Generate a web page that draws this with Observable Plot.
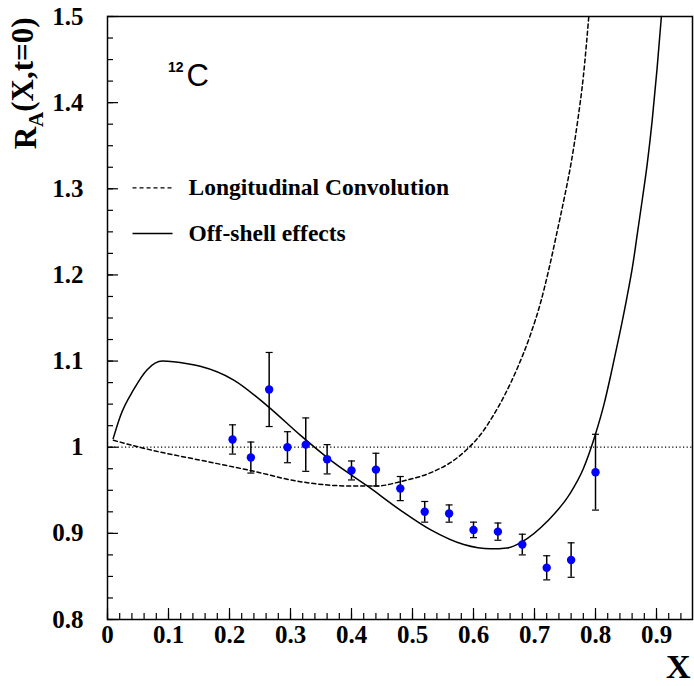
<!DOCTYPE html>
<html>
<head>
<meta charset="utf-8">
<script src="https://cdn.jsdelivr.net/npm/d3@7"></script>
<script src="https://cdn.jsdelivr.net/npm/@observablehq/plot@0.6"></script>
<style>
  html, body { margin: 0; padding: 0; background: white; }
</style>
</head>
<body>
<div id="chart"></div>
<script>
// ---- data ----
const dataX   = [0.205, 0.235, 0.265, 0.295, 0.325, 0.36, 0.40, 0.44, 0.48, 0.52, 0.56, 0.60, 0.64, 0.68, 0.72, 0.76, 0.80];
const dataY   = [1.009, 0.988, 1.067, 1.000, 1.003, 0.986, 0.973, 0.974, 0.952, 0.925, 0.923, 0.904, 0.902, 0.887, 0.860, 0.869, 0.971];
const dataErr = [0.017, 0.018, 0.043, 0.018, 0.031, 0.017, 0.011, 0.019, 0.014, 0.012, 0.010, 0.009, 0.010, 0.012, 0.014, 0.020, 0.044];

const offShellX = [0.0093, 0.021, 0.043, 0.065, 0.090, 0.131, 0.152, 0.207, 0.262, 0.316, 0.371, 0.426, 0.480, 0.530, 0.584, 0.628, 0.655, 0.679, 0.721, 0.759, 0.780, 0.799, 0.814, 0.827, 0.840, 0.851, 0.861, 0.869, 0.877, 0.885, 0.893, 0.901, 0.908];
const offShellY = [1.010, 1.036, 1.067, 1.090, 1.100, 1.097, 1.094, 1.078, 1.048, 1.014, 0.982, 0.955, 0.927, 0.904, 0.887, 0.882, 0.883, 0.890, 0.914, 0.947, 0.975, 1.013, 1.050, 1.090, 1.133, 1.172, 1.211, 1.250, 1.289, 1.330, 1.380, 1.440, 1.500];

const longConvX = [0.0098, 0.076, 0.152, 0.234, 0.316, 0.398, 0.442, 0.480, 0.535, 0.562, 0.590, 0.612, 0.630, 0.650, 0.672, 0.693, 0.710, 0.724, 0.737, 0.749, 0.760, 0.771, 0.780, 0.789];
const longConvY = [1.008, 0.996, 0.985, 0.973, 0.960, 0.955, 0.955, 0.960, 0.972, 0.982, 0.998, 1.015, 1.034, 1.059, 1.092, 1.130, 1.168, 1.208, 1.250, 1.290, 1.330, 1.380, 1.430, 1.500];

const xTicks = [0, 0.1, 0.2, 0.3, 0.4, 0.5, 0.6, 0.7, 0.8, 0.9];
const xTickLabels = ["0", "0.1", "0.2", "0.3", "0.4", "0.5", "0.6", "0.7", "0.8", "0.9"];
const yTicks = [0.8, 0.9, 1.0, 1.1, 1.2, 1.3, 1.4, 1.5];
const yTickLabels = ["0.8", "0.9", "1", "1.1", "1.2", "1.3", "1.4", "1.5"];

const legendLabels = ["Longitudinal Convolution", "Off-shell effects"];
const nucleusMass = "12";
const nucleusSymbol = "C";
const yTitle = "R_A(X,t=0)";
const xTitle = "X";

// ---- derived tables ----
const points = dataX.map((x, i) => ({x, y: dataY[i], e: dataErr[i]}));
const offShell = offShellX.map((x, i) => ({x, y: offShellY[i]}));
const longConv = longConvX.map((x, i) => ({x, y: longConvY[i]}));
const xLabelMap = new Map(xTicks.map((t, i) => [t, xTickLabels[i]]));
const yLabelMap = new Map(yTicks.map((t, i) => [t, yTickLabels[i]]));
const xMinor = d3.range(0, 48).map(i => +(i * 0.02).toFixed(2));
const yMinor = d3.range(0, 29).map(i => +(0.8 + i * 0.025).toFixed(3));

const capSymbol = {
  draw(context, size) {
    const w = Math.sqrt(size / Math.PI);
    context.moveTo(-w, 0);
    context.lineTo(w, 0);
  }
};

const serif = "Liberation Serif";
const frameH = 686 - 16 - 67;
const frameW = 694 - 107 - 2;

const legend = [
  {x1: 0.041, x2: 0.1066, xt: 0.1328, y: 1.301, label: legendLabels[0]},
  {x1: 0.041, x2: 0.1066, xt: 0.1328, y: 1.248, label: legendLabels[1]}
];

const chart = Plot.plot({
  width: 694,
  height: 686,
  marginLeft: 107,
  marginRight: 2,
  marginTop: 16,
  marginBottom: 67,
  x: {domain: [0, 0.959]},
  y: {domain: [0.8, 1.5]},
  style: {fontFamily: serif, fontWeight: "bold", fontSize: "25px", background: "white", color: "black"},
  marks: [
    // reference line at 1
    Plot.ruleY([1], {stroke: "black", strokeWidth: 1.2, strokeDasharray: "1.2,2.4"}),
    // minor and major ticks (inside the frame)
    Plot.tickX(xMinor, {x: d => d, insetTop: frameH - 6, stroke: "black", strokeWidth: 1.2}),
    Plot.tickX(xTicks, {x: d => d, insetTop: frameH - 11, stroke: "black", strokeWidth: 1.2}),
    Plot.tickY(yMinor, {y: d => d, insetRight: frameW - 6, stroke: "black", strokeWidth: 1.2}),
    Plot.tickY(yTicks, {y: d => d, insetRight: frameW - 11, stroke: "black", strokeWidth: 1.2}),
    // axes labels
    Plot.axisX(xTicks, {tickSize: 0, tickPadding: 6, tickFormat: d => xLabelMap.get(d), label: null, fontSize: 25, fontWeight: "bold", fontFamily: serif}),
    Plot.axisY(yTicks, {tickSize: 0, tickPadding: 24, tickFormat: d => yLabelMap.get(d), label: null, fontSize: 25, fontWeight: "bold", fontFamily: serif}),
    // curves
    Plot.line(longConv, {x: "x", y: "y", curve: "monotone-x", stroke: "black", strokeWidth: 1.5, strokeDasharray: "4,3"}),
    Plot.line(offShell, {x: "x", y: "y", curve: "monotone-x", stroke: "black", strokeWidth: 1.5}),
    // error bars
    Plot.ruleX(points, {x: "x", y1: d => d.y - d.e, y2: d => d.y + d.e, stroke: "black", strokeWidth: 1.5}),
    Plot.dot(points, {x: "x", y: d => d.y + d.e, symbol: capSymbol, r: 3.5, stroke: "black", fill: "none", strokeWidth: 1.2}),
    Plot.dot(points, {x: "x", y: d => d.y - d.e, symbol: capSymbol, r: 3.5, stroke: "black", fill: "none", strokeWidth: 1.2}),
    // data points
    Plot.dot(points, {x: "x", y: "y", r: 4.2, fill: "#0000ff", stroke: "none"}),
    // legend
    Plot.link([legend[0]], {x1: "x1", x2: "x2", y1: "y", y2: "y", stroke: "black", strokeWidth: 1.3, strokeDasharray: "4,3"}),
    Plot.link([legend[1]], {x1: "x1", x2: "x2", y1: "y", y2: "y", stroke: "black", strokeWidth: 1.5}),
    Plot.text(legend, {x: "xt", y: "y", text: "label", textAnchor: "start", fontSize: 23.5, fontWeight: "bold", fontFamily: serif}),
    // nucleus label
    Plot.text([0], {x: 0.112, y: 1.441, text: () => nucleusMass, fontSize: 14, fontWeight: "bold", fontFamily: "Liberation Sans", textAnchor: "middle"}),
    Plot.text([0], {x: 0.148, y: 1.431, text: () => nucleusSymbol, fontSize: 31, fontWeight: "normal", fontFamily: "Liberation Sans", textAnchor: "middle"}),
    // axis titles
    Plot.text([0], {frameAnchor: "top-left", text: () => yTitle, rotate: -90, textAnchor: "end", lineAnchor: "middle", dx: -81, dy: 1, fontSize: 31, fontWeight: "bold", fontFamily: serif}),
    Plot.text([0], {frameAnchor: "bottom-right", text: () => xTitle, textAnchor: "end", lineAnchor: "middle", dx: -2, dy: 48, fontSize: 34, fontWeight: "bold", fontFamily: serif}),
    Plot.frame({stroke: "black", strokeWidth: 1.5})
  ]
});

document.getElementById("chart").appendChild(chart);

// subscript for the y title
d3.select(chart).selectAll("text").filter(function() { return this.textContent === yTitle; }).each(function() {
  const t = d3.select(this);
  t.text(null);
  t.append("tspan").text("R");
  t.append("tspan").attr("dy", "0.3em").attr("font-size", "21").text("A");
  t.append("tspan").attr("dy", "-0.3em").text("(X,t=0)");
});
</script>
</body>
</html>
